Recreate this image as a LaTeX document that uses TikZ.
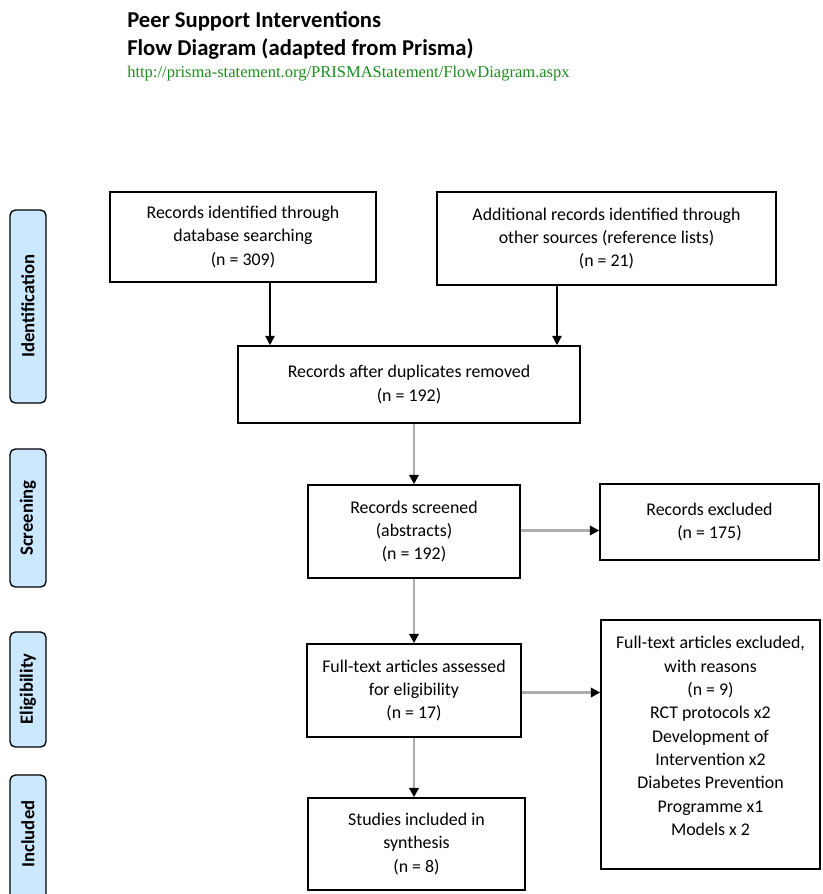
\documentclass[tikz,border=0pt]{standalone}
\usepackage{fontspec}
\setmainfont{Carlito}
\newfontfamily\urlfont{Liberation Serif}
\usetikzlibrary{arrows.meta}
\definecolor{sidefill}{HTML}{CCE8FF}
\definecolor{urlgreen}{HTML}{1E8C1E}
\begin{document}
\begin{tikzpicture}[x=0.75pt,y=-0.75pt,
  box/.style={draw=black,line width=1.2pt,align=center,font=\fontsize{13.4}{17.5}\selectfont,inner sep=2pt},
  side/.style={draw=black,line width=1pt,fill=sidefill,rounded corners=4pt,minimum width=36*0.75pt,inner sep=0pt},
  sidetext/.style={rotate=90,font=\bfseries\fontsize{14}{16}\selectfont},
  arrb/.style={draw=black,line width=1.2pt,-{Triangle[length=7pt,width=7pt,color=black]}},
  arrg/.style={draw=gray!65,line width=1.8pt,-{Triangle[length=7pt,width=7pt,color=black]}}]
\useasboundingbox (0,0) rectangle (823,894);
\clip (0,0) rectangle (823,894);
% title
\node[anchor=west,font=\bfseries\fontsize{17}{20}\selectfont,inner sep=0pt] (t1) at (127,21) {Peer Support Interventions};
\node[anchor=west,font=\bfseries\fontsize{17}{20}\selectfont,inner sep=0pt] (t2) at (127,49) {Flow Diagram (adapted from Prisma)};
\node[anchor=west,font=\urlfont\fontsize{12.4}{14}\selectfont,text=urlgreen,inner sep=0pt] (url) at (127,74) {http://prisma-statement.org/PRISMAStatement/FlowDiagram.aspx};
% side labels
\draw[side] (10,210) rectangle (46,403);
\node[sidetext] (sid) at (28,306) {Identification};
\draw[side] (10,449) rectangle (46,587);
\node[sidetext] (sscr) at (28,518) {Screening};
\draw[side] (10,632) rectangle (46,747);
\node[sidetext] (selg) at (28,689) {Eligibility};
\draw[side] (10,775) rectangle (46,920);
\node[sidetext] (sinc) at (28,834) {Included};
% boxes
\node[box,minimum width=266*0.75pt,minimum height=90*0.75pt] (A) at (243,237) {Records identified through\\database searching\\(n = 309)};
\node[box,minimum width=339*0.75pt,minimum height=93*0.75pt] (B) at (606.5,238.5) {Additional records identified through\\other sources (reference lists)\\(n = 21)};
\node[box,minimum width=342*0.75pt,minimum height=77*0.75pt] (C) at (409,384.5) {Records after duplicates removed\\(n = 192)};
\node[box,minimum width=212*0.75pt,minimum height=93*0.75pt] (D) at (414,531.5) {Records screened\\(abstracts)\\(n = 192)};
\node[box,minimum width=219*0.75pt,minimum height=76*0.75pt] (E) at (709.5,522) {Records excluded\\(n = 175)};
\node[box,minimum width=219*0.75pt,minimum height=249*0.75pt,anchor=north] (G) at (710.5,619) {};
\node[box,anchor=north,draw=none] (Gt) at (710.5,633) {Full-text articles excluded,\\with reasons\\(n = 9)\\RCT protocols x2\\Development of\\Intervention x2\\Diabetes Prevention\\Programme x1\\Models x 2};
\node[box,minimum width=214*0.75pt,minimum height=93*0.75pt] (F) at (414,690.5) {Full-text articles assessed\\for eligibility\\(n = 17)};
\node[box,minimum width=217*0.75pt,minimum height=92*0.75pt] (H) at (416.5,844) {Studies included in\\synthesis\\(n = 8)};
% arrows
\draw[arrb] ([xshift=27*0.75pt]A.south) -- ([xshift=27*0.75pt]A.south |- C.north);
\draw[arrb] ([xshift=-49.5*0.75pt]B.south) -- ([xshift=-49.5*0.75pt]B.south |- C.north);
\draw[arrg] (D.north |- C.south) -- (D.north);
\draw[arrg] (D.south) -- (F.north);
\draw[arrg] (F.south) -- (H.north -| F.south);
\draw[arrg] ([yshift=1*0.75pt]D.east) -- ([yshift=1*0.75pt]D.east -| E.west);
\draw[arrg] ([yshift=-2*0.75pt]F.east) -- ([yshift=-2*0.75pt]F.east -| G.west);
\end{tikzpicture}
\end{document}
